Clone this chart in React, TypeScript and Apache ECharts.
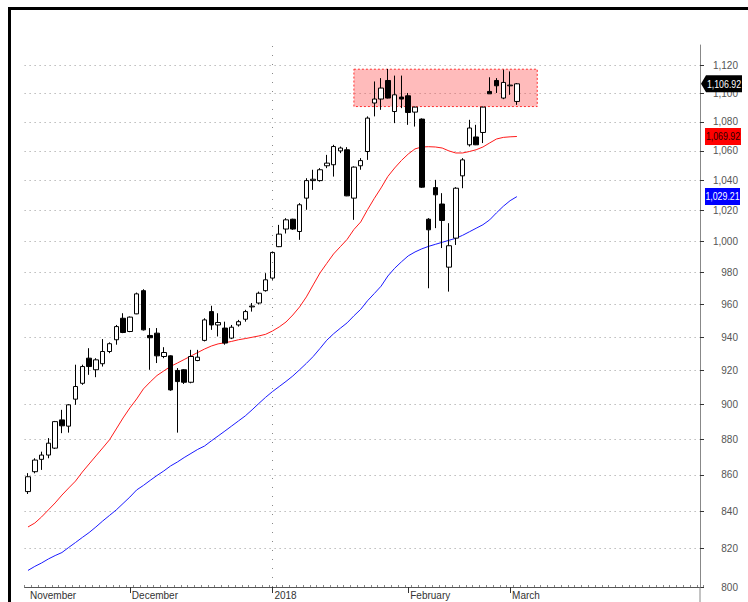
import React, { useEffect, useRef } from 'react';
import * as echarts from 'echarts';

// ---- data ----
// candles: [open, close, low, high]
const candles: number[][] = [
  [850.8, 859.0, 849.5, 861.0],
  [861.8, 868.3, 860.9, 869.3],
  [868.7, 871.1, 862.8, 873.0],
  [871.1, 877.8, 869.3, 880.7],
  [875.0, 890.1, 874.5, 890.5],
  [891.1, 887.7, 883.5, 896.9],
  [887.5, 899.8, 883.8, 900.2],
  [903.1, 910.5, 899.8, 923.4],
  [912.4, 922.3, 911.5, 923.4],
  [927.3, 922.3, 917.4, 933.3],
  [920.4, 926.3, 916.0, 927.3],
  [924.0, 931.3, 922.3, 938.8],
  [931.3, 936.0, 930.3, 936.8],
  [938.4, 946.4, 935.4, 947.4],
  [951.5, 942.8, 942.4, 954.6],
  [943.4, 952.2, 943.0, 952.6],
  [954.2, 966.6, 954.0, 967.4],
  [968.6, 944.4, 944.0, 969.5],
  [941.0, 939.6, 920.4, 945.5],
  [942.4, 928.7, 924.4, 945.5],
  [928.3, 930.7, 927.3, 933.9],
  [928.7, 908.5, 908.0, 929.0],
  [920.0, 913.4, 883.8, 921.4],
  [920.4, 913.0, 912.0, 920.8],
  [913.0, 928.3, 912.4, 932.3],
  [925.9, 927.9, 925.5, 932.3],
  [938.0, 950.5, 937.4, 951.5],
  [955.6, 947.4, 944.4, 959.2],
  [947.4, 948.9, 940.4, 954.6],
  [945.5, 936.4, 935.4, 949.4],
  [939.4, 946.0, 938.8, 947.4],
  [947.4, 949.4, 946.4, 950.5],
  [950.9, 955.6, 949.4, 956.7],
  [958.5, 959.0, 955.6, 960.9],
  [960.9, 967.0, 960.0, 968.0],
  [968.6, 975.4, 968.0, 979.6],
  [976.5, 992.8, 975.4, 993.4],
  [996.5, 1004.6, 996.2, 1010.6],
  [1007.9, 1013.9, 1005.0, 1015.0],
  [1014.3, 1007.9, 1007.4, 1014.6],
  [1006.3, 1023.8, 1000.9, 1024.9],
  [1028.2, 1039.9, 1020.5, 1041.5],
  [1039.9, 1040.8, 1033.7, 1047.2],
  [1039.9, 1047.2, 1039.2, 1048.3],
  [1049.9, 1051.7, 1048.3, 1057.3],
  [1050.6, 1063.0, 1042.6, 1064.2],
  [1060.0, 1062.0, 1058.5, 1063.0],
  [1060.8, 1029.7, 1029.5, 1062.6],
  [1028.2, 1049.0, 1013.9, 1049.5],
  [1049.9, 1053.4, 1047.2, 1055.1],
  [1059.6, 1082.7, 1053.9, 1083.9],
  [1093.3, 1096.1, 1083.9, 1108.6],
  [1096.1, 1103.9, 1088.5, 1111.0],
  [1109.3, 1096.8, 1096.5, 1117.6],
  [1087.3, 1099.1, 1079.2, 1112.8],
  [1097.5, 1096.1, 1089.7, 1112.8],
  [1098.4, 1086.6, 1078.0, 1100.4],
  [1086.9, 1090.4, 1076.8, 1090.8],
  [1082.0, 1035.5, 1035.0, 1082.5],
  [1014.3, 1007.4, 970.1, 1015.0],
  [1035.2, 1030.4, 1008.5, 1040.4],
  [1024.3, 1013.5, 995.6, 1031.5],
  [983.4, 997.1, 968.0, 1011.7],
  [1002.0, 1034.8, 997.6, 1035.5],
  [1043.1, 1053.9, 1034.8, 1055.1],
  [1064.2, 1075.8, 1063.0, 1081.5],
  [1069.6, 1064.2, 1064.0, 1078.0],
  [1072.7, 1090.4, 1065.4, 1090.8],
  [1101.5, 1099.8, 1099.8, 1111.6],
  [1109.3, 1105.5, 1100.4, 1111.0],
  [1096.8, 1107.9, 1096.0, 1117.1],
  [1105.5, 1106.0, 1099.1, 1115.8],
  [1094.4, 1106.92, 1092.0, 1107.5],
];

const maRed: number[] = [
  831.6, 833.7, 837.0, 840.8, 844.6, 848.9, 852.8, 856.6, 861.6, 866.1,
  870.6, 875.1, 879.7, 885.9, 892.2, 898.0, 903.2, 909.1, 913.2, 917.0,
  919.7, 922.4, 924.4, 926.5, 928.6, 930.7, 932.8, 934.6, 935.9, 936.6,
  937.4, 938.4, 939.1, 939.9, 940.7, 941.7, 943.7, 946.2, 949.2, 953.5,
  958.5, 964.7, 972.2, 979.7, 985.8, 991.8, 996.5, 1001.2, 1007.6, 1012.5,
  1020.5, 1028.0, 1035.0, 1042.7, 1048.4, 1053.5, 1057.9, 1061.4, 1062.7, 1062.9,
  1062.7, 1062.0, 1060.0, 1058.6, 1058.6, 1059.6, 1060.8, 1062.7, 1065.5, 1068.2,
  1069.3, 1069.7, 1069.92,
];

const maBlue: number[] = [
  808.6, 810.7, 812.5, 814.6, 816.4, 818.0, 820.7, 823.3, 826.0, 828.6,
  831.6, 834.8, 837.8, 840.8, 844.3, 847.8, 851.7, 854.2, 857.0, 859.7,
  862.2, 865.0, 867.2, 869.7, 872.0, 874.3, 876.2, 879.1, 881.9, 884.7,
  887.6, 890.5, 893.4, 896.9, 900.6, 904.2, 907.5, 910.5, 913.5, 916.7,
  920.4, 924.2, 928.3, 933.1, 938.1, 942.0, 945.4, 948.7, 953.0, 957.0,
  962.3, 966.8, 971.4, 977.8, 982.7, 986.8, 990.6, 993.1, 995.1, 996.7,
  998.0, 999.3, 1000.6, 1001.9, 1003.8, 1006.1, 1008.4, 1010.7, 1013.9, 1018.5,
  1022.8, 1026.5, 1029.21,
];

const yTickValues: number[] = [800, 820, 840, 860, 880, 900, 920, 940, 960, 980, 1000, 1020, 1040, 1060, 1080, 1100, 1120];
const monthIndex: number[] = [0, 15, 36, 56, 71];
const monthNames: string[] = ['November', 'December', '2018', 'February', 'March'];
const yearLineIndex = 36;
const zoneX: number[] = [48, 75];
const zoneY: number[] = [1090.8, 1117.4];
const tagValues = { last: 1106.92, red: 1069.92, blue: 1029.21 };
const slotCount = 100;
const yMin = 800;
const yMax = 1135;

const FONT = "'Liberation Sans Narrow', 'Liberation Sans', Arial, sans-serif";

export default function App() {
  const ref = useRef<HTMLDivElement>(null);
  useEffect(() => {
    const el = ref.current!;
    const chart = echarts.init(el, undefined, { renderer: 'svg', width: 748, height: 602 });
    const L = Math.log;
    const categories = Array.from({ length: slotCount }, (_, i) => String(i));
    const fmt = (v: number) => Math.round(Math.exp(v)).toLocaleString('en-US');
    const tickLog = yTickValues.map(L);

    const option: any = {
      animation: false,
      backgroundColor: '#ffffff',
      grid: { left: 24.6, right: 44.4, top: 45, bottom: 15, containLabel: false, outerBoundsMode: 'none' },
      xAxis: [
        {
          type: 'category',
          data: categories,
          position: 'bottom',
          boundaryGap: true,
          axisLine: { show: true, lineStyle: { color: '#555', width: 1 } },
          axisTick: { show: true, inside: true, length: 2, interval: 0, lineStyle: { color: '#888' } },
          axisLabel: { show: false },
          splitLine: { show: false },
        },
        {
          type: 'category',
          data: categories,
          position: 'bottom',
          boundaryGap: true,
          axisLine: { show: false },
          axisTick: {
            show: true,
            alignWithLabel: true,
            length: 6,
            interval: (i: number) => i !== 0 && monthIndex.includes(i),
            lineStyle: { color: '#333' },
          },
          axisLabel: {
            show: true,
            interval: (i: number) => monthIndex.includes(i),
            formatter: (_v: string, i: number) => {
              const k = monthIndex.indexOf(i);
              return k >= 0 ? monthNames[k] : '';
            },
            align: 'left',
            padding: [0, 0, 0, 2],
            margin: 3,
            color: '#333',
            fontSize: 10,
            fontFamily: FONT,
          },
          splitLine: { show: false },
        },
      ],
      yAxis: {
        type: 'value',
        position: 'right',
        offset: -3.6,
        min: L(yMin),
        max: L(yMax),
        axisLine: { show: true, lineStyle: { color: '#888', width: 1 } },
        axisTick: { show: true, customValues: tickLog, length: 4, lineStyle: { color: '#333' } },
        axisLabel: {
          show: true,
          customValues: tickLog,
          formatter: fmt,
          align: 'right',
          margin: 38,
          color: '#555',
          fontSize: 10,
          fontFamily: FONT,
        },
        splitLine: { show: true, lineStyle: { color: '#999', width: 1, type: [1, 4] } },
      },
      series: [
        {
          type: 'line',
          data: maRed.map(L),
          symbol: 'none',
          lineStyle: { color: '#ff1a1a', width: 1 },
          z: 2,
        },
        {
          type: 'line',
          data: maBlue.map(L),
          symbol: 'none',
          lineStyle: { color: '#1a1aff', width: 1 },
          z: 2,
        },
        {
          type: 'candlestick',
          data: candles.map((c) => c.map(L)),
          barWidth: 5,
          z: 3,
          itemStyle: {
            color: '#ffffff',
            color0: '#000000',
            borderColor: '#000000',
            borderColor0: '#000000',
            borderWidth: 1,
          },
          markArea: {
            silent: true,
            z: 1,
            itemStyle: {
              color: 'rgba(255, 60, 60, 0.35)',
              borderColor: '#ff3030',
              borderWidth: 1,
              borderType: [2, 2],
            },
            data: [[{ xAxis: zoneX[0], yAxis: L(zoneY[1]) }, { xAxis: zoneX[1], yAxis: L(zoneY[0]) }]],
          },
          markLine: {
            silent: true,
            symbol: 'none',
            label: { show: false },
            lineStyle: { color: '#888', width: 1, type: [1, 8] },
            data: [{ xAxis: yearLineIndex }],
          },
        },
      ],
    };
    chart.setOption(option);

    const yPx = (v: number) => chart.convertToPixel({ yAxisIndex: 0 }, L(v)) as number;
    const yl = yPx(tagValues.last);
    const yr = yPx(tagValues.red);
    const yb = yPx(tagValues.blue);
    const h = 8.5;
    const tagText = (x: number, y: number, text: string, fill: string) => ({
      type: 'text',
      z: 101,
      x,
      y,
      scaleX: 0.8,
      style: {
        x: 0,
        y: 0,
        text,
        fill,
        font: `11px 'Liberation Sans', Arial, sans-serif`,
        textAlign: 'center',
        textVerticalAlign: 'middle',
      },
    });
    chart.setOption({
      graphic: [
        { type: 'rect', z: 100, shape: { x: 8, y: 7, width: 740, height: 3 }, style: { fill: '#000' } },
        { type: 'rect', z: 100, shape: { x: 8, y: 7, width: 3, height: 595 }, style: { fill: '#000' } },
        { type: 'line', z: 100, shape: { x1: 700, y1: 587, x2: 700, y2: 602 }, style: { stroke: '#888', lineWidth: 1 } },
        {
          type: 'polygon',
          z: 100,
          shape: { points: [[701, yl], [706, yl - h], [742, yl - h], [742, yl + h], [706, yl + h]] },
          style: { fill: '#000' },
        },
        tagText(724, yl, fmtNum(tagValues.last), '#fff'),
        { type: 'rect', z: 100, shape: { x: 705, y: yr - h, width: 36, height: 2 * h }, style: { fill: '#ff0000' } },
        tagText(723, yr, fmtNum(tagValues.red), '#2a0000'),
        { type: 'rect', z: 100, shape: { x: 705, y: yb - h, width: 35, height: 2 * h }, style: { fill: '#0000ff' } },
        tagText(722.5, yb, fmtNum(tagValues.blue), '#fff'),
      ],
    });
    return () => chart.dispose();
  }, []);
  return <div ref={ref} style={{ position: 'absolute', left: 0, top: 0, width: 748, height: 602 }} />;
}

function fmtNum(v: number) {
  return v.toLocaleString('en-US', { minimumFractionDigits: 2, maximumFractionDigits: 2 });
}
